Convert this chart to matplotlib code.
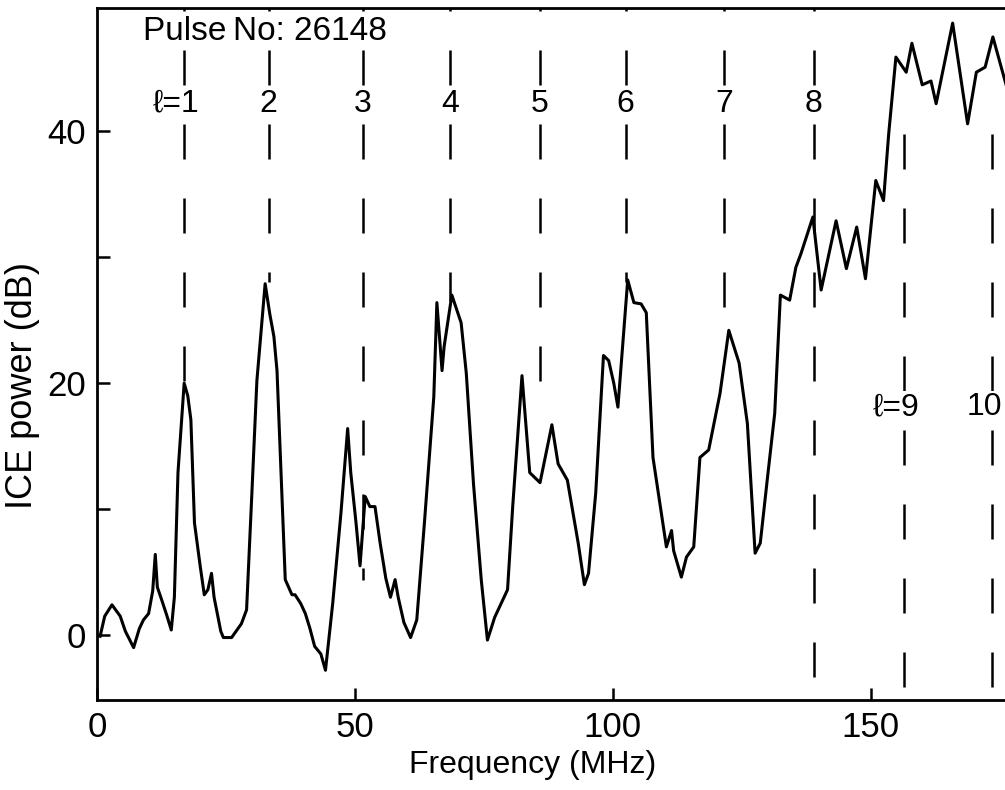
import matplotlib
matplotlib.use("Agg")
import matplotlib.pyplot as plt

plt.rcParams['font.family'] = ['Liberation Sans', 'DejaVu Sans']

# ICE spectrum, pulse 26148
freq = [0.6, 1.5, 2.9, 4.5, 5.5, 7.1, 8.2, 9.0, 10.0, 10.8, 11.3, 11.7, 12.7, 13.5,
        14.4, 15.0, 15.7, 16.9, 17.6, 18.2, 18.9, 20.0, 20.8, 21.5, 22.2, 22.7, 24.0,
        24.5, 26.1, 28.0, 29.0, 30.0, 31.0, 32.6, 33.5, 34.3, 34.9, 36.5, 37.8, 38.4,
        39.5, 40.4, 41.3, 42.2, 43.4, 44.3, 45.7, 47.3, 48.6, 49.2, 50.2, 51.0, 52.0,
        52.9, 53.9, 54.9, 56.0, 56.9, 57.8, 58.4, 59.5, 60.8, 62.0, 63.5, 65.3, 65.9,
        66.9, 67.3, 68.8, 70.6, 71.6, 73.0, 74.5, 75.7, 77.1, 79.6, 80.6, 82.4, 83.9,
        85.9, 88.2, 89.4, 91.2, 93.3, 94.5, 95.3, 96.7, 98.2, 99.2, 100.2, 101.0, 102.0,
        102.9, 104.1, 105.5, 106.5, 107.8, 109.4, 110.4, 111.4, 111.8, 113.3, 114.3,
        115.7, 116.9, 118.6, 120.8, 122.5, 124.5, 126.1, 127.6, 128.6, 130.0, 131.4,
        132.5, 134.3, 135.5, 136.5, 138.8, 140.4, 143.3, 145.3, 147.3, 149.0, 151.0,
        152.5, 153.5, 154.9, 156.9, 158.0, 160.0, 161.7, 162.7, 165.9, 168.8, 170.5,
        172.2, 173.7, 176.4, 177.6, 178.5]
power = [-0.1, 1.5, 2.4, 1.5, 0.3, -1.0, 0.5, 1.2, 1.7, 3.5, 6.4, 3.8, 2.6, 1.6,
         0.4, 3.0, 12.9, 20.0, 19.0, 17.1, 8.9, 5.5, 3.2, 3.6, 4.9, 3.0, 0.3,
         -0.2, -0.2, 0.9, 2.0, 11.0, 20.2, 27.9, 25.5, 23.7, 21.0, 4.4, 3.2, 3.2,
         2.5, 1.7, 0.5, -0.9, -1.5, -2.8, 2.5, 9.7, 16.4, 12.9, 9.0, 5.5, 11.0,
         10.2, 10.2, 7.3, 4.5, 3.0, 4.4, 3.0, 1.0, -0.2, 1.2, 9.0, 18.9, 26.4,
         21.0, 22.9, 27.0, 24.8, 20.8, 12.0, 4.4, -0.4, 1.4, 3.6, 10.2, 20.6, 12.9,
         12.1, 16.7, 13.6, 12.3, 7.3, 4.0, 4.9, 11.3, 22.2, 21.8, 20.0, 18.1, 23.4,
         28.2, 26.4, 26.3, 25.6, 14.1, 9.7, 7.0, 8.3, 6.7, 4.6, 6.2,
         7.0, 14.1, 14.7, 19.2, 24.2, 21.6, 16.8, 6.5, 7.3, 12.5, 17.6,
         27.0, 26.6, 29.2, 30.3, 33.2, 27.4, 32.9, 29.1, 32.4, 28.3, 36.1,
         34.5, 39.8, 45.9, 44.7, 47.0, 43.7, 44.0, 42.2, 48.6, 40.6, 44.7,
         45.1, 47.5, 43.5, 44.8, 44.5]

# Harmonic markers l = 1..10
harm_labels = ['\u2113=1', '2', '3', '4', '5', '6', '7', '8', '\u2113=9', '10']
harm_freq = [16.9, 33.3, 51.6, 68.4, 85.9, 102.5, 121.6, 139.0, 156.5, 173.5]
harm_top = [49.8, 49.8, 49.8, 49.8, 49.8, 49.8, 49.8, 49.8, 39.8, 39.8]
harm_bottom = [20.0, 28.0, 4.4, 26.5, 19.7, 28.0, 25.0, -4.0, -4.1, -4.1]
harm_label_y = [42.2, 42.2, 42.2, 42.2, 42.2, 42.2, 42.2, 42.2, 18.1, 18.1]
harm_label_dx = [-1.6, 0, 0, 0, 0, 0, 0, 0, -1.6, -1.4]

fig = plt.figure(figsize=(10.05, 7.90), dpi=100)
ax = fig.add_axes([97 / 1005, 1 - 700 / 790, 1 - 97 / 1005 + 0.01, (700 - 8) / 790])

ax.plot(freq, power, color='black', lw=2.2, solid_joinstyle='round', zorder=3)

dash_lw = 1.8
for f, top, bot in zip(harm_freq, harm_top, harm_bottom):
    offset = 12.8 if top > 45 else 0.0
    ax.plot([f, f], [top, bot], color='black', lw=dash_lw,
            linestyle=(offset, (14.0, 15.6)), zorder=2)

for f, lab, ly, dx in zip(harm_freq, harm_labels, harm_label_y, harm_label_dx):
    ax.text(f + dx, ly, lab, ha='center', va='center', fontsize=23,
            bbox=dict(facecolor='white', edgecolor='none', pad=0.5), zorder=4)

ax.text(9.0, 47.9, 'Pulse\u2009No: 26148', ha='left', va='center', fontsize=24, zorder=4)

ax.set_xlim(0, 178)
ax.set_ylim(-5.16, 49.8)
ax.set_xticks([0, 50, 100, 150])
ax.set_yticks([0, 10, 20, 30, 40])
ax.set_yticklabels(['0', '', '20', '', '40'])
ax.tick_params(direction='in', length=9, width=1.8, labelsize=25, pad=8)
ax.spines['right'].set_visible(False)
for side in ('left', 'bottom', 'top'):
    ax.spines[side].set_linewidth(2.0)

ax.set_xlabel('Frequency (MHz)', fontsize=23)
ax.set_ylabel('ICE power (dB)', fontsize=26)
ax.xaxis.set_label_coords(0.475, -0.072)
ax.yaxis.set_label_coords(-0.062, 0.455)

fig.savefig('out.png', dpi=100)
